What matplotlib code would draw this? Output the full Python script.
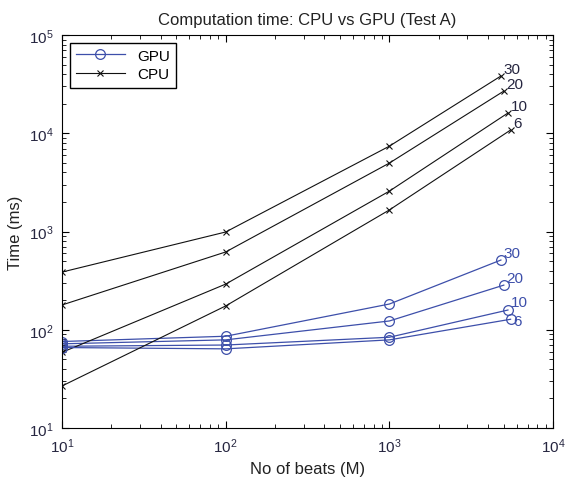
import numpy as np
import matplotlib
matplotlib.use("Agg")
import matplotlib.pyplot as plt
from matplotlib.ticker import LogLocator

plt.rcParams['font.family'] = ['Liberation Sans', 'DejaVu Sans']

# data (ms)
labels = ["30", "20", "10", "6"]
beats = [10, 100, 1000]
beats_last = [4800, 5000, 5300, 5500]

cpu_time = {
    "30": [387, 990, 7400, 38300],
    "20": [179, 620, 4980, 26900],
    "10": [59, 292, 2580, 16100],
    "6": [26.8, 175, 1660, 10800],
}
gpu_time = {
    "30": [76, 86, 183, 513],
    "20": [72, 79, 123, 285],
    "10": [68, 70, 84, 159],
    "6": [66, 64, 79, 128],
}
gpu_label_dy = [0, 0, 1, -6]

gpu_col = '#3d4faa'
cpu_col = '#111111'
txt_col = '#262640'

fig = plt.figure(figsize=(5.71, 4.81), dpi=100)
ax = fig.add_axes([0.1086, 0.108, 0.86, 0.817])

for i, k in enumerate(labels):
    x = beats + [beats_last[i]]
    g, = ax.plot(x, gpu_time[k], '-o', color=gpu_col, lw=0.9, ms=7,
                 mfc='none', mec=gpu_col, mew=0.9)
    c, = ax.plot(x, cpu_time[k], '-x', color=cpu_col, lw=0.8, ms=4,
                 mew=0.8)
    ax.annotate(k, (x[-1], cpu_time[k][-1]), xytext=(2, 0),
                textcoords='offset points', color=txt_col, fontsize=11,
                va='bottom', ha='left')
    ax.annotate(k, (x[-1], gpu_time[k][-1]), xytext=(2, gpu_label_dy[i]),
                textcoords='offset points', color=gpu_col, fontsize=11,
                va='bottom', ha='left')

ax.set_xscale('log')
ax.set_yscale('log')
ax.set_xlim(10, 1e4)
ax.set_ylim(10, 1e5)
ax.xaxis.set_major_locator(LogLocator(base=10, numticks=10))
ax.yaxis.set_major_locator(LogLocator(base=10, numticks=10))
ax.tick_params(which='both', direction='in', top=True, right=True,
               colors='black', labelcolor=txt_col, labelsize=11)
ax.tick_params(which='major', length=5, width=0.8, pad=6)
ax.tick_params(which='minor', length=3, width=0.6)
for s in ax.spines.values():
    s.set_linewidth(0.8)

ax.set_title("Computation time: CPU vs GPU (Test A)", fontsize=12, color='#222222', pad=8)
ax.set_xlabel("No of beats (M)", fontsize=12, color='#222222')
ax.set_ylabel("Time (ms)", fontsize=12, color='#222222')

ax.legend([g, c], ["GPU", "CPU"], loc='upper left', fontsize=11,
          fancybox=False, edgecolor='black', framealpha=1,
          handlelength=3.2, borderpad=0.4, labelspacing=0.3)

fig.savefig("out.png", dpi=100)
